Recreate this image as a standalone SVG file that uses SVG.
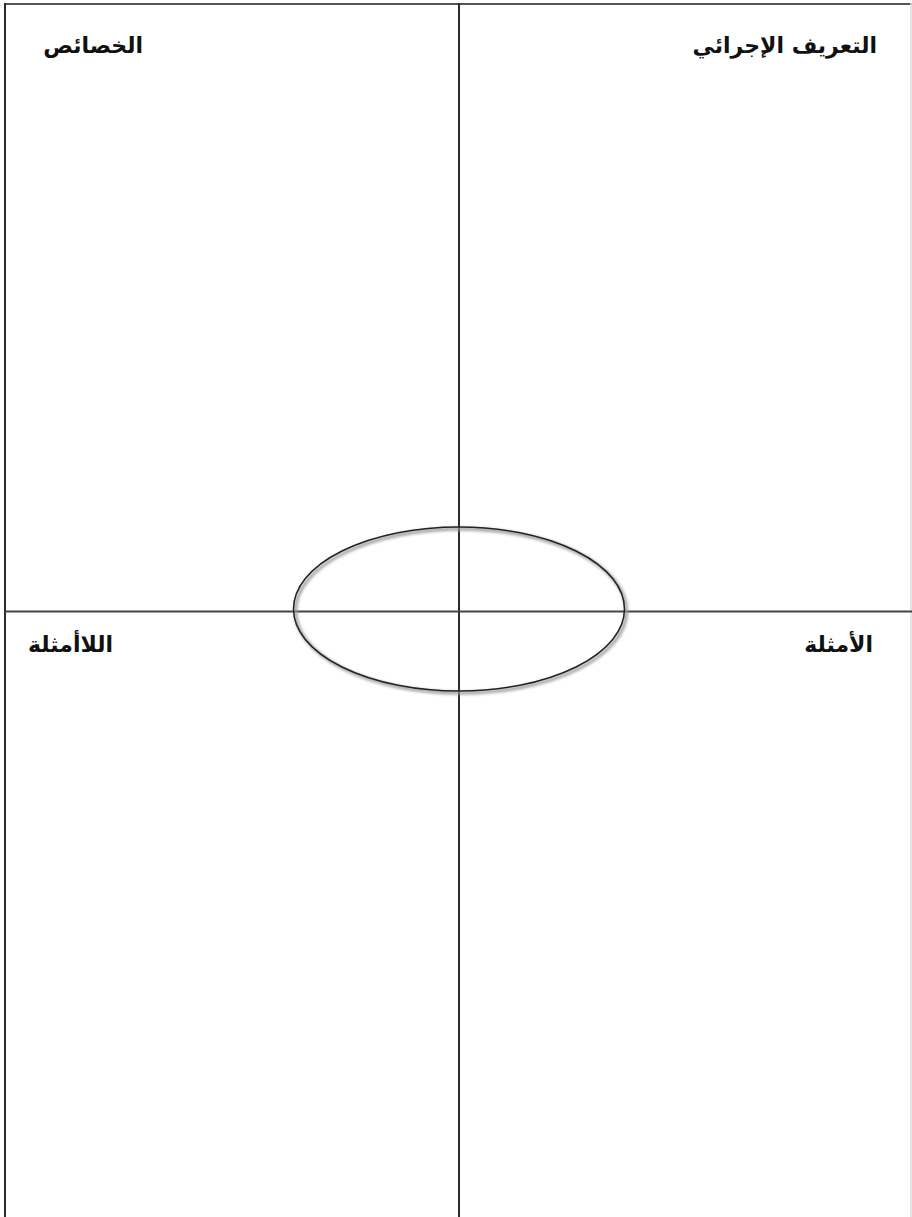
<svg xmlns="http://www.w3.org/2000/svg" width="912" height="1217" viewBox="0 0 912 1217">
<defs>
<style>
.ln{stroke:#2b2b2b;stroke-width:2;fill:none}
.lbl{font-family:"DejaVu Sans",sans-serif;font-weight:bold;font-size:22px;fill:#111;direction:rtl;text-anchor:start;unicode-bidi:embed}
</style>
<filter id="sh" x="-10%" y="-10%" width="130%" height="130%">
<feGaussianBlur stdDeviation="1.5"/>
</filter>
</defs>
<rect width="912" height="1217" fill="#fff"/>
<g id="connectors">
<line class="ln" x1="4" y1="4" x2="912" y2="4" style="stroke:#555"/>
<line class="ln" x1="5" y1="3" x2="5" y2="1217"/>
<line x1="911" y1="3" x2="911" y2="1217" stroke="#ddd" stroke-width="1.5"/>
<line class="ln" x1="459" y1="3" x2="459" y2="1217"/>
<line class="ln" x1="5" y1="611.5" x2="912" y2="611.5" style="stroke:#444"/>
</g>
<g id="center-ellipse">
<ellipse cx="461" cy="611" rx="165.5" ry="82" fill="none" stroke="#999" stroke-width="3" filter="url(#sh)"/>
<ellipse cx="459" cy="609" rx="165.5" ry="82" fill="none" stroke="#222" stroke-width="1.5"/>
</g>
<g id="node-characteristics"><text class="lbl" x="143" y="53" direction="rtl">الخصائص</text></g>
<g id="node-definition"><text class="lbl" x="877" y="53" direction="rtl">التعريف الإجرائي</text></g>
<g id="node-nonexamples"><text class="lbl" x="113" y="652" direction="rtl">اللاأمثلة</text></g>
<g id="node-examples"><text class="lbl" x="873" y="652" direction="rtl">الأمثلة</text></g>
</svg>
